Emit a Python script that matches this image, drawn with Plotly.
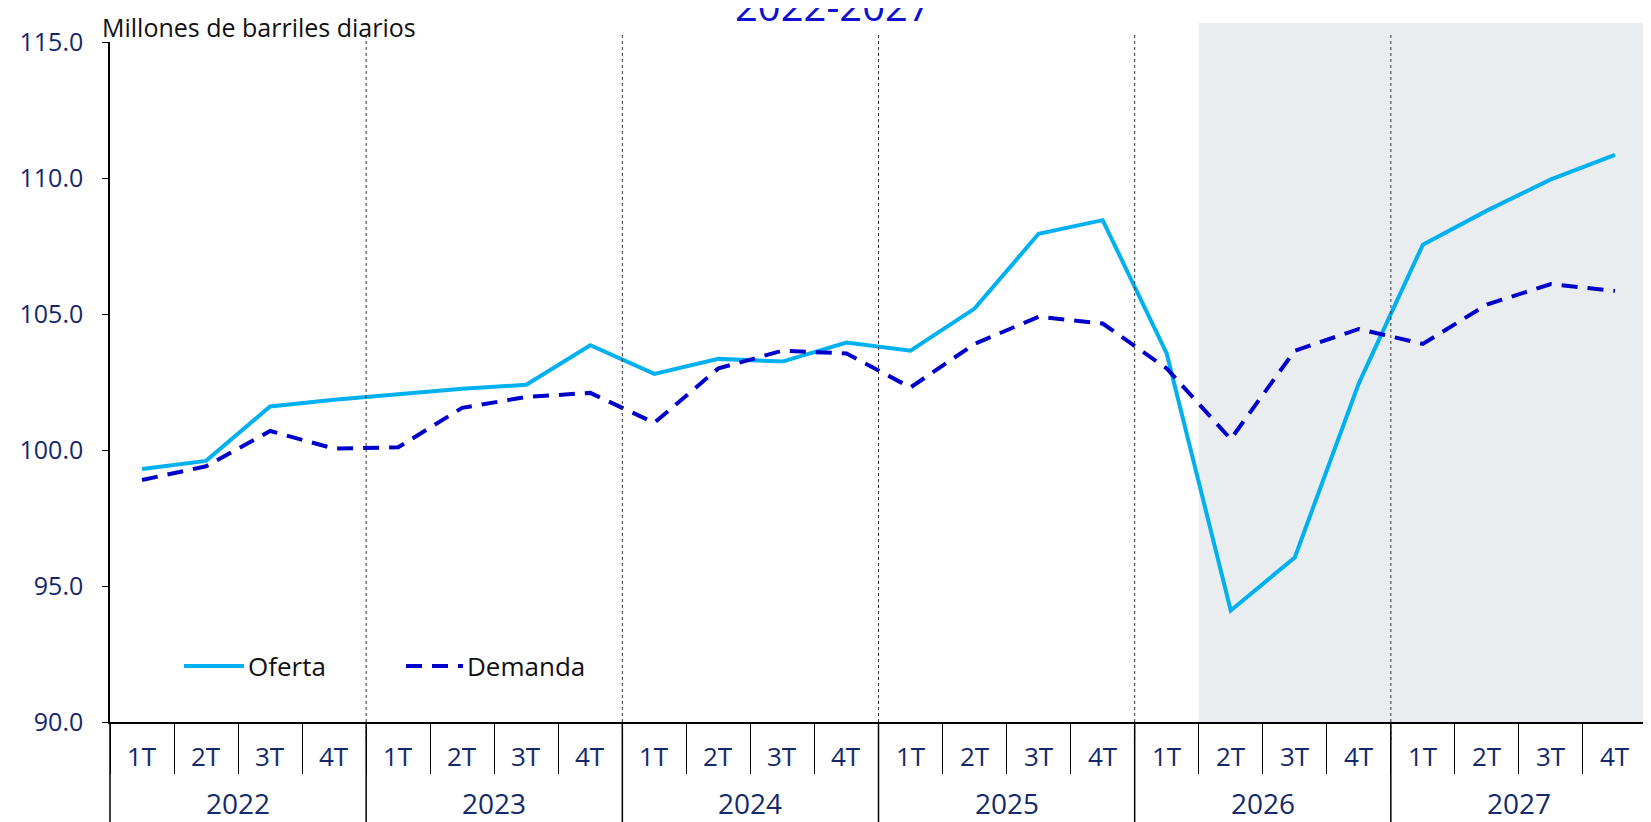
import plotly.graph_objects as go

years = ["2022", "2023", "2024", "2025", "2026", "2027"]
quarters = ["1T", "2T", "3T", "4T"]
periods = [f"{q} {y}" for y in years for q in quarters]

oferta = [99.3, 99.6, 101.6, 101.85, 102.05, 102.25, 102.4, 103.85,
          102.8, 103.35, 103.25, 103.95, 103.65, 105.2, 107.95, 108.45,
          103.55, 94.1, 96.05, 102.45, 107.55, 108.8, 109.95, 110.85]
demanda = [98.9, 99.4, 100.7, 100.05, 100.1, 101.55, 101.95, 102.1,
           101.0, 103.0, 103.65, 103.55, 102.3, 103.9, 104.9, 104.65,
           103.0, 100.4, 103.65, 104.45, 103.9, 105.35, 106.1, 105.85]

OFERTA_COLOR = "#00B0F0"
DEMANDA_COLOR = "#0000CC"
NAVY = "#13296B"
FONT = "Open Sans"
DASH = "16px,10px"

# the page body adds an 8px offset, so the figure is 8px smaller
OFF = 8
W, H = 1651 - OFF, 822 - OFF
L, R, T, B = 102, 4, 34, 100
pw = W - L - R
ph = H - T - B


def px(vx):
    # window x pixel -> paper x
    return (vx - OFF - L) / pw


def py(vy):
    # window y pixel -> paper y
    return (H - B - (vy - OFF)) / ph


fig = go.Figure()

fig.add_trace(go.Scatter(
    x=periods, y=oferta, name="Oferta", mode="lines",
    line=dict(color=OFERTA_COLOR, width=4),
))
fig.add_trace(go.Scatter(
    x=periods, y=demanda, name="Demanda", mode="lines",
    line=dict(color=DEMANDA_COLOR, width=4, dash=DASH),
))

shapes = []
# forecast shading
shapes.append(dict(type="rect", xref="x", yref="paper", x0=16.5, x1=23.5,
                   y0=0, y1=py(23), fillcolor="#E9EDF0", line_width=0,
                   layer="below"))
# dotted year separators in the plot area
for i in range(1, len(years)):
    shapes.append(dict(type="line", xref="x", yref="paper",
                       x0=4 * i - 0.5, x1=4 * i - 0.5, y0=py(740), y1=py(34),
                       line=dict(color="#333333", width=1, dash="dot")))
# year dividers below the axis
for i in range(len(years) + 1):
    shapes.append(dict(type="line", xref="paper", yref="paper",
                       x0=i / len(years), x1=i / len(years),
                       y0=0, y1=py(830),
                       line=dict(color="black", width=1.5)))

annotations = []
for p, q in zip(periods, [q for y in years for q in quarters]):
    annotations.append(dict(x=p, xref="x", y=py(756), yref="paper",
                            text=q, showarrow=False, yanchor="middle",
                            font=dict(size=26, color=NAVY, family=FONT)))
for i, y in enumerate(years):
    annotations.append(dict(x=4 * i + 1.5, xref="x", y=py(803), yref="paper",
                            text=y, showarrow=False, yanchor="middle",
                            font=dict(size=28, color=NAVY, family=FONT)))

# unit label and title
annotations.append(dict(x=px(100), xref="paper", y=py(8), yref="paper",
                        text="Millones de barriles diarios", showarrow=False,
                        xanchor="left", yanchor="top",
                        font=dict(size=25, color="#111111", family=FONT)))
annotations.append(dict(x=px(833), xref="paper", y=py(35), yref="paper",
                        text="2022-2027", showarrow=False,
                        xanchor="center", yanchor="bottom",
                        font=dict(size=40, color="#1010D0", family=FONT)))

# manual legend
legend_items = [("Oferta", OFERTA_COLOR, "solid", 184, 244),
                ("Demanda", DEMANDA_COLOR, DASH, 406, 463)]
for name, color, dash, x0, x1 in legend_items:
    shapes.append(dict(type="line", xref="paper", yref="paper",
                       x0=px(x0), x1=px(x1), y0=py(666), y1=py(666),
                       line=dict(color=color, width=4, dash=dash)))
    annotations.append(dict(x=px(x1 + 2), xref="paper", y=py(666),
                            yref="paper", text=name, showarrow=False,
                            xanchor="left", yanchor="middle",
                            font=dict(size=26, color="#111111", family=FONT)))

fig.update_layout(
    width=W, height=H,
    margin=dict(l=L, r=R, t=T, b=B),
    plot_bgcolor="white", paper_bgcolor="white",
    showlegend=False,
    font=dict(family=FONT),
    shapes=shapes,
    annotations=annotations,
)

fig.update_xaxes(
    type="category", range=[-0.5, 23.5],
    showticklabels=False, showgrid=False, zeroline=False,
    showline=True, linecolor="black", linewidth=2,
    ticks="outside", tickson="boundaries", ticklen=50,
    tickcolor="black", tickwidth=1,
)
fig.update_yaxes(
    range=[90, 115], dtick=5, tickformat=".1f",
    showgrid=False, zeroline=False,
    showline=True, linecolor="black", linewidth=1.5,
    ticks="outside", ticklen=6, tickcolor="black",
    ticklabelstandoff=14,
    tickfont=dict(size=25, color=NAVY, family=FONT),
)

fig.write_html("out.html")
